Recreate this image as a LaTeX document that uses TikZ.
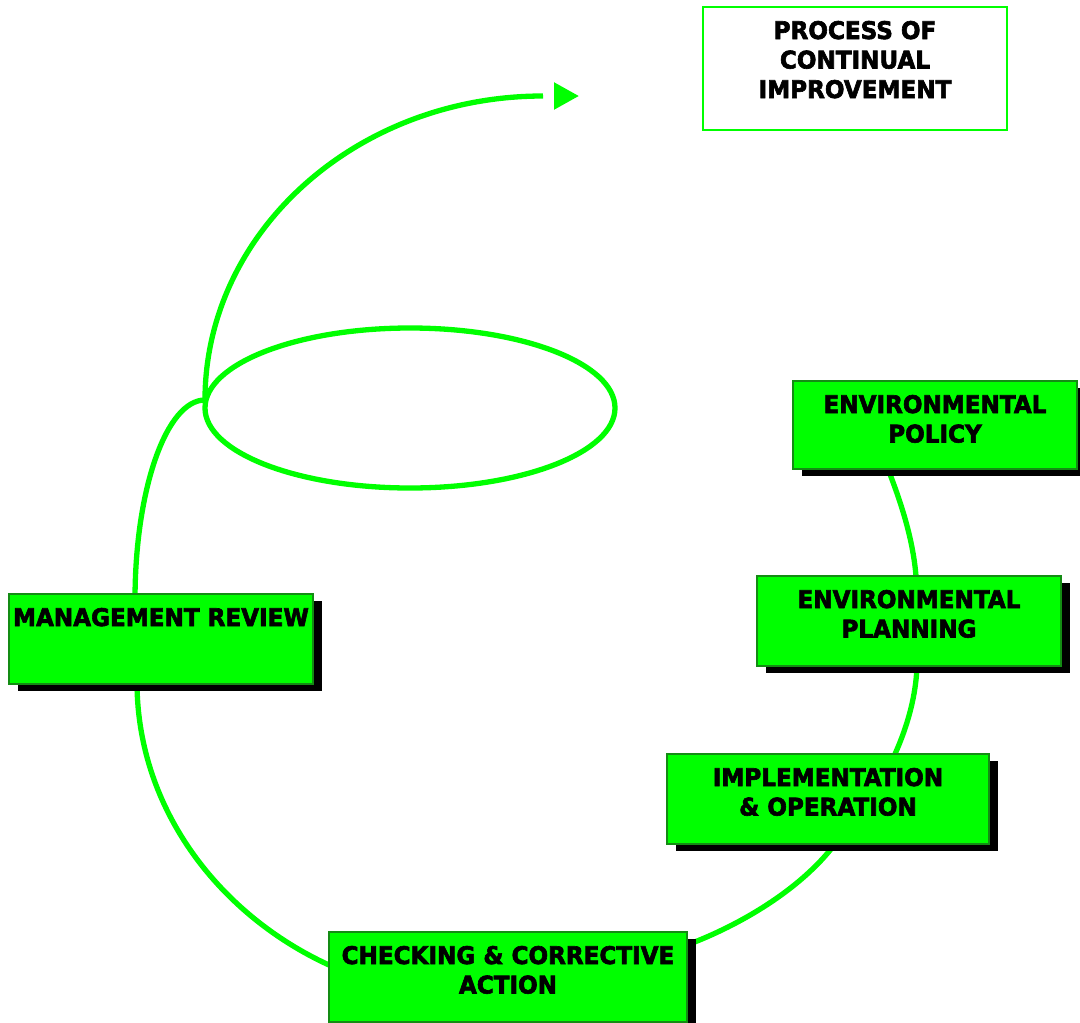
\documentclass[tikz,border=0pt]{standalone}
\usepackage{fontspec}
\newfontfamily\lblfont{DejaVu Sans Bold}[FakeStretch=0.95,FakeBold=2.5]
\usetikzlibrary{arrows.meta,shapes.geometric,shadows,backgrounds}
\definecolor{lime}{RGB}{0,255,0}
\definecolor{edgegreen}{RGB}{20,140,20}
\newcommand{\boxlabel}[3]{\parbox[t][#2pt][t]{#1pt}{\centering\rule{0pt}{32pt}#3}}
\begin{document}
\begin{tikzpicture}[x=1pt,y=-1pt,
  lbl/.style={font=\lblfont\fontsize{24.3}{29.5}\selectfont, inner sep=0pt, outer sep=0pt, anchor=north west},
  stepbox/.style={lbl, draw=edgegreen, line width=2pt, fill=lime,
    general shadow={fill=black, shadow xshift=9pt, shadow yshift=-7pt}},
  titlebox/.style={lbl, draw=lime, line width=2.5pt, fill=white},
  conn/.style={draw=lime, line width=5.3pt},
  loopshape/.style={ellipse, draw=lime, line width=5.3pt, minimum width=410pt, minimum height=160pt, inner sep=0pt}
]
\useasboundingbox (0,0) rectangle (1080,1023);

\node[titlebox] (title) at (703,7) {\boxlabel{304}{123}{PROCESS OF\\CONTINUAL\\IMPROVEMENT}};
\node[stepbox] (policy) at (793,381) {\boxlabel{284}{88}{ENVIRONMENTAL\\POLICY}};
\node[stepbox] (plan) at (757,576) {\boxlabel{304}{90}{ENVIRONMENTAL\\PLANNING}};
\node[stepbox] (impl) at (667,754) {\boxlabel{322}{90}{IMPLEMENTATION\\\& OPERATION}};
\node[stepbox] (check) at (329,932) {\boxlabel{358}{90}{CHECKING \& CORRECTIVE\\ACTION}};
\node[stepbox] (mgmt) at (9,594) {\boxlabel{304}{90}{MANAGEMENT REVIEW}};

\node[loopshape] (loop) at (410,408) {};
\coordinate (J) at (205,400);
\coordinate (tipbase) at (554,96);
\coordinate (tip) at (579,96);

\begin{pgfonlayer}{background}
  % upward arc towards the arrow head
  \draw[conn] (J) arc[start angle=180, end angle=270, x radius=338, y radius=304];
  \draw[conn, -{Triangle[length=25pt,width=26pt]}] (tipbase) -- (tip);
  % hook down to management review
  \draw[conn] (J) arc[start angle=270, end angle=180, x radius=70, y radius=200] -- (mgmt.north -| 135,0);
  % management review -> checking
  \draw[conn] ([xshift=-24pt]mgmt.south) .. controls (138,810) and (220,915) .. ([yshift=12pt]check.west);
  % checking -> implementation
  \draw[conn] ([yshift=32pt]check.east) .. controls (740,925) and (800,890) .. ([xshift=7pt]impl.south);
  % implementation -> planning
  \draw[conn] ([xshift=67pt]impl.north) .. controls (908,725) and (916,695) .. ([xshift=8pt]plan.south);
  % planning -> policy
  \draw[conn] ([xshift=7pt]plan.north) .. controls (913,540) and (902,505) .. ([xshift=-47pt]policy.south);
\end{pgfonlayer}
\end{tikzpicture}
\end{document}
